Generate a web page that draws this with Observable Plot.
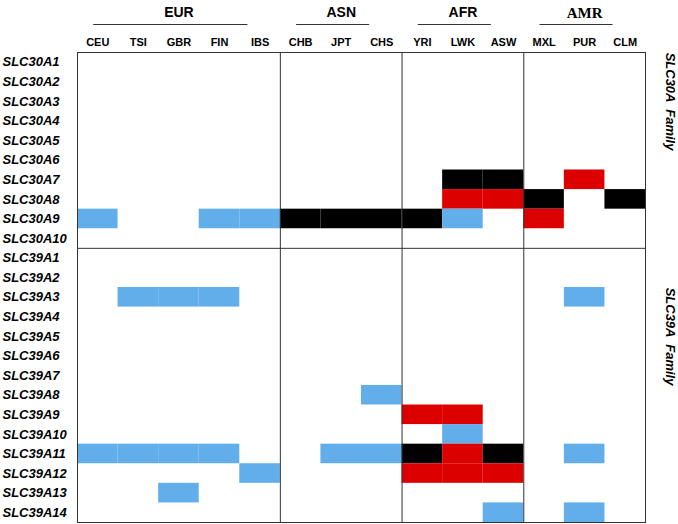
<!DOCTYPE html>
<html><head><meta charset="utf-8">
<script src="https://cdn.jsdelivr.net/npm/d3@7"></script>
<script src="https://cdn.jsdelivr.net/npm/@observablehq/plot@0.6"></script>
<style>html,body{margin:0;padding:0;background:#fff;} #chart svg{display:block;}</style>
</head><body><div id="chart"></div>
<script>
const populations = ["CEU","TSI","GBR","FIN","IBS","CHB","JPT","CHS","YRI","LWK","ASW","MXL","PUR","CLM"];
const groups = ["EUR","ASN","AFR","AMR"];
const groupSizes = [5,3,3,3];
const genes = ["SLC30A1","SLC30A2","SLC30A3","SLC30A4","SLC30A5","SLC30A6","SLC30A7","SLC30A8","SLC30A9","SLC30A10",
  "SLC39A1","SLC39A2","SLC39A3","SLC39A4","SLC39A5","SLC39A6","SLC39A7","SLC39A8","SLC39A9","SLC39A10","SLC39A11","SLC39A12","SLC39A13","SLC39A14"];
const families = ["SLC30A  Family","SLC39A  Family"];
const familySizes = [10,14];
const statuses = ["B","R","K"];
const statusColors = ["#62AEEB","#DC0000","#000000"];
const cells = [
  ["SLC30A7","LWK","K"],["SLC30A7","ASW","K"],["SLC30A7","PUR","R"],
  ["SLC30A8","LWK","R"],["SLC30A8","ASW","R"],["SLC30A8","MXL","K"],["SLC30A8","CLM","K"],
  ["SLC30A9","CEU","B"],["SLC30A9","FIN","B"],["SLC30A9","IBS","B"],["SLC30A9","CHB","K"],["SLC30A9","JPT","K"],["SLC30A9","CHS","K"],["SLC30A9","YRI","K"],["SLC30A9","LWK","B"],["SLC30A9","MXL","R"],
  ["SLC39A3","TSI","B"],["SLC39A3","GBR","B"],["SLC39A3","FIN","B"],["SLC39A3","PUR","B"],
  ["SLC39A8","CHS","B"],
  ["SLC39A9","YRI","R"],["SLC39A9","LWK","R"],
  ["SLC39A10","LWK","B"],
  ["SLC39A11","CEU","B"],["SLC39A11","TSI","B"],["SLC39A11","GBR","B"],["SLC39A11","FIN","B"],["SLC39A11","JPT","B"],["SLC39A11","CHS","B"],["SLC39A11","YRI","K"],["SLC39A11","LWK","R"],["SLC39A11","ASW","K"],["SLC39A11","PUR","B"],
  ["SLC39A12","IBS","B"],["SLC39A12","YRI","R"],["SLC39A12","LWK","R"],["SLC39A12","ASW","R"],
  ["SLC39A13","GBR","B"],
  ["SLC39A14","ASW","B"],["SLC39A14","PUR","B"]
];

const pi = p => populations.indexOf(p);
const gi = g => genes.indexOf(g);
const cellData = cells.map(([gene,pop,status]) => ({gene,pop,status}));

let acc = 0;
const groupData = groups.map((g,i) => { const s = acc; acc += groupSizes[i]; return {name:g, start:s, end:acc}; });
let acc2 = 0;
const famData = families.map((f,i) => { const s = acc2; acc2 += familySizes[i]; return {name:f, start:s, end:acc2}; });

const sans = "Liberation Sans Narrow, Arial Narrow, Liberation Sans, Arial, sans-serif";
const chart = Plot.plot({
  width: 678, height: 524,
  marginLeft: 77, marginRight: 33, marginTop: 52, marginBottom: 2,
  x: {domain: [0, populations.length], axis: null},
  y: {domain: [0, genes.length], reverse: true, axis: null},
  color: {domain: statuses, range: statusColors},
  style: {background: "#fff"},
  marks: [
    Plot.rect(cellData, {x1: d => pi(d.pop), x2: d => pi(d.pop) + 1, y1: d => gi(d.gene), y2: d => gi(d.gene) + 1, fill: "status"}),
    Plot.ruleX(groupData.slice(1), {x: "start", stroke: "#333", strokeWidth: 1}),
    Plot.ruleY(famData.slice(1), {y: "start", stroke: "#333", strokeWidth: 1}),
    Plot.frame({stroke: "#333", strokeWidth: 1}),
    Plot.text(populations, {x: (d,i) => i + 0.5, frameAnchor: "top", dy: -14, text: d => d, fontFamily: sans, fontWeight: "bold", fontSize: 11, fill: "#000"}),
    Plot.text(groupData.filter(d => d.name !== "AMR"), {x: d => (d.start + d.end) / 2, frameAnchor: "top", dy: -45, text: "name", fontFamily: sans, fontWeight: "bold", fontSize: 14, fill: "#000"}),
    Plot.text(groupData.filter(d => d.name === "AMR"), {x: d => (d.start + d.end) / 2, frameAnchor: "top", dy: -45, text: "name", fontFamily: "Liberation Serif, Times New Roman, serif", fontWeight: "bold", fontSize: 15, fill: "#000"}),
    Plot.ruleY(groupData, {y: 0, x1: d => d.start + 0.4, x2: d => d.end - 0.8, dy: -28, stroke: "#333", strokeWidth: 1}),
    Plot.text(genes, {y: (d,i) => i + 0.5, frameAnchor: "left", dx: -75, textAnchor: "start", text: d => d, fontFamily: "Liberation Sans, Arial, sans-serif", fontWeight: "bold", fontStyle: "italic", fontSize: 13, fill: "#000"}),
    Plot.text(famData, {y: d => (d.start + d.end) / 2, frameAnchor: "right", dx: 25, rotate: 90, text: "name", fontFamily: "Liberation Sans, Arial, sans-serif", fontWeight: "bold", fontStyle: "italic", fontSize: 13, fill: "#000"})
  ]
});
document.getElementById("chart").appendChild(chart);
</script>
</body></html>
